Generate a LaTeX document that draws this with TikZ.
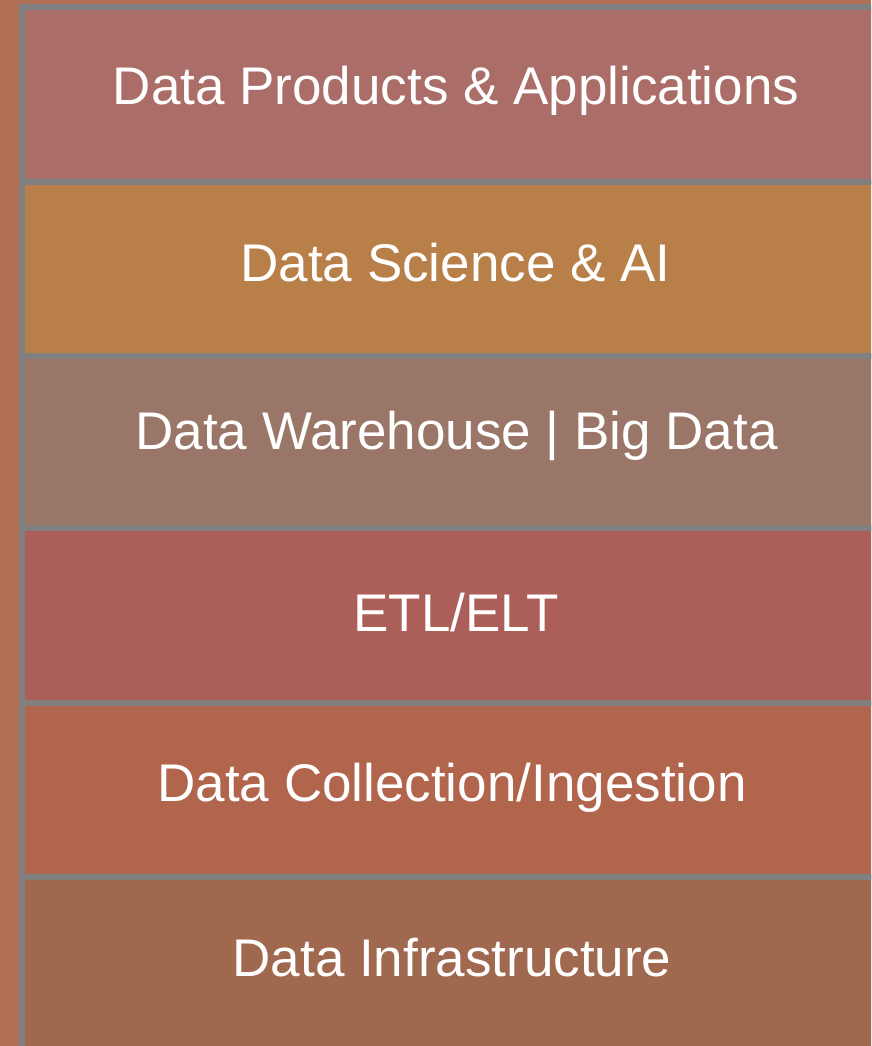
\documentclass[tikz,border=0pt]{standalone}
\usepackage{fontspec}
\setmainfont{Liberation Sans}
\definecolor{bgc}{HTML}{B06E54}
\definecolor{linec}{HTML}{808080}
\definecolor{cA}{HTML}{AB6D67}
\definecolor{cB}{HTML}{B87F48}
\definecolor{cC}{HTML}{9A7668}
\definecolor{cD}{HTML}{AC5F58}
\definecolor{cE}{HTML}{B2654D}
\definecolor{cF}{HTML}{A0684E}
\begin{document}
\begin{tikzpicture}[x=1pt,y=-1pt,
  layer/.style={draw=linec,line width=6pt},
  lbl/.style={text=white,anchor=base,inner sep=0pt,font=\fontsize{53}{60}\selectfont}]
\useasboundingbox (0,0) rectangle (871,1046);
\begin{scope}
\clip (0,0) rectangle (871,1046);
\fill[bgc] (0,0) rectangle (871,1046);
\path[layer,fill=cA] (22,7.5) rectangle (900,182);
\path[layer,fill=cB] (22,182) rectangle (900,356);
\path[layer,fill=cC] (22,356) rectangle (900,528);
\path[layer,fill=cD] (22,528) rectangle (900,703);
\path[layer,fill=cE] (22,703) rectangle (900,877);
\path[layer,fill=cF] (22,877) rectangle (900,1054);
\end{scope}
\node[lbl] (t1) at (456,104.3) {Data Products \& Applications};
\node[lbl] (t2) at (455.5,281) {Data Science \& AI};
\node[lbl] (t3) at (456.5,449.3) {Data Warehouse | Big Data};
\node[lbl] (t4) at (456,631.7) {ETL/ELT};
\node[lbl] (t5) at (452,801) {Data Collection/Ingestion};
\node[lbl] (t6) at (452,976) {Data Infrastructure};
\end{tikzpicture}
\end{document}
